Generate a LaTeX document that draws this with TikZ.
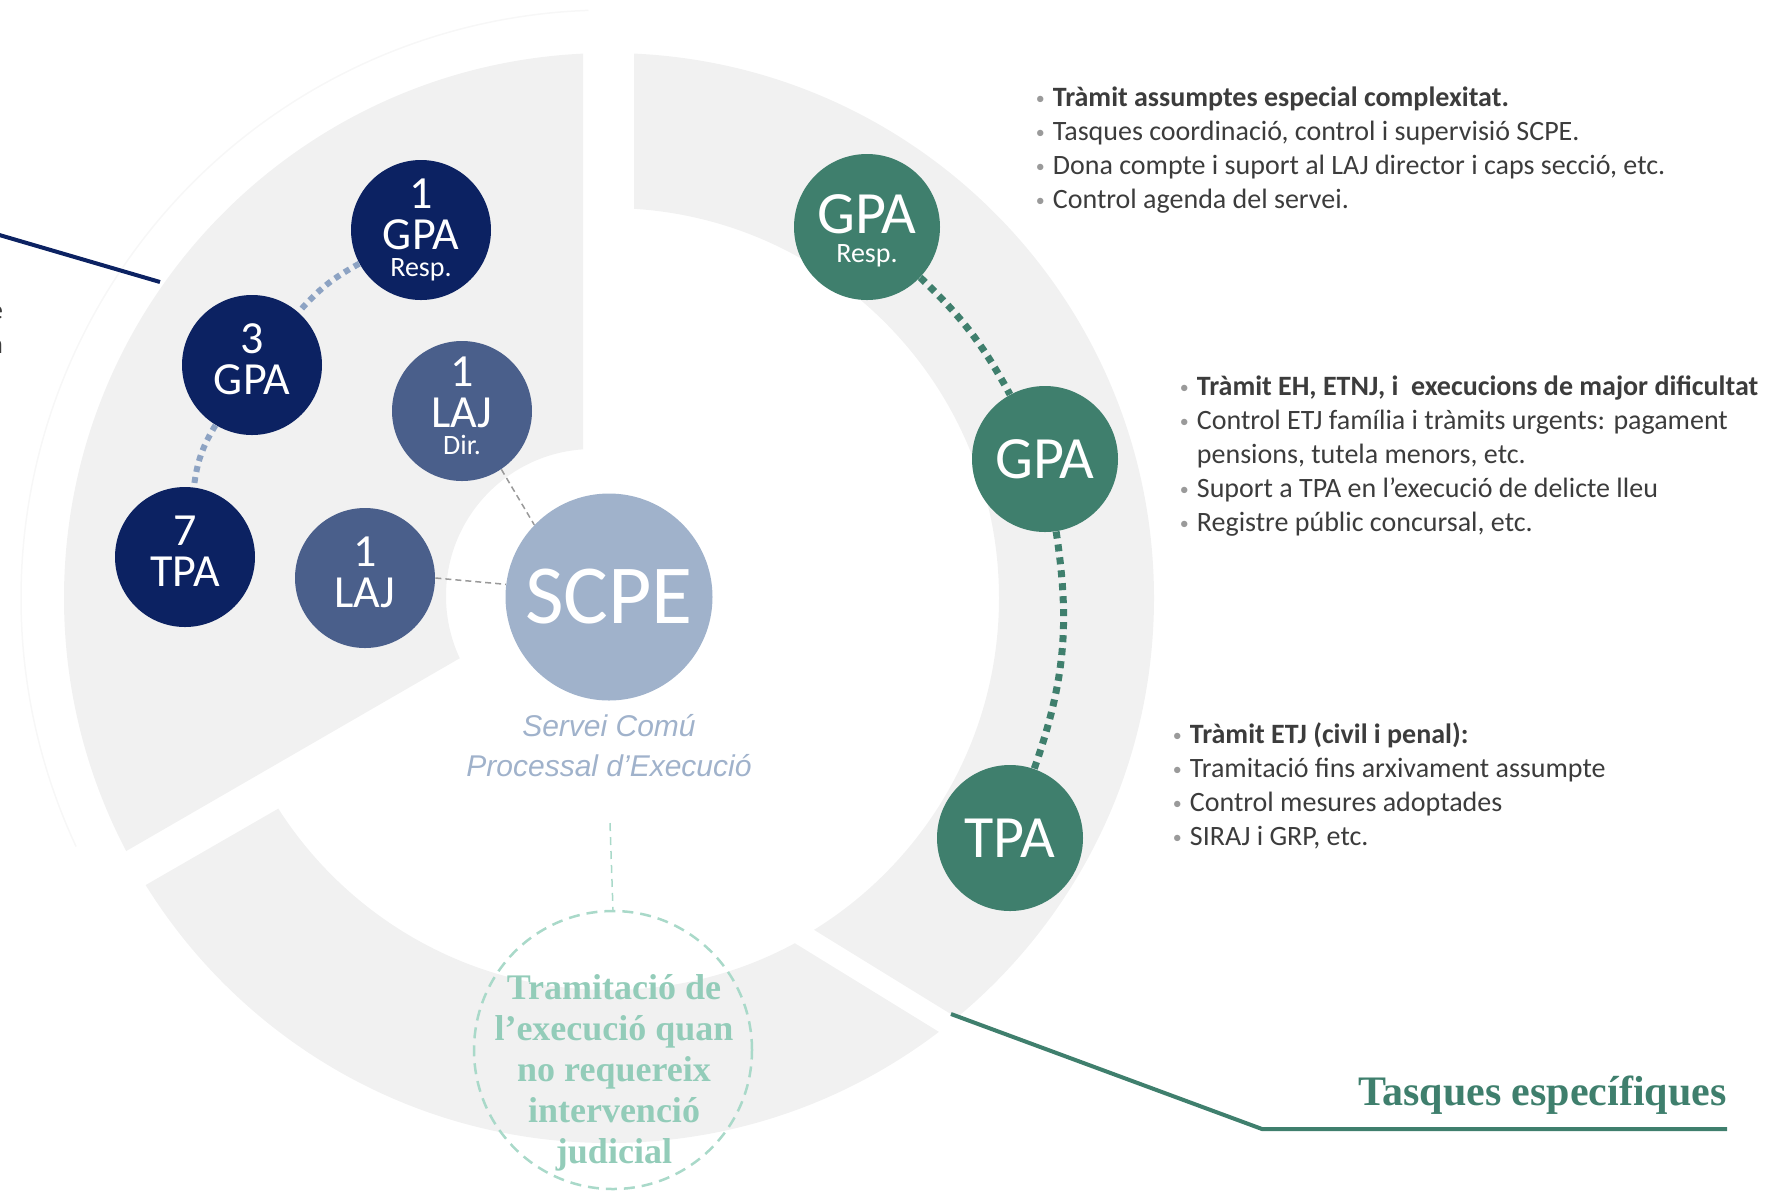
\documentclass[tikz,border=0pt]{standalone}
\usepackage{fontspec}
\setmainfont{Carlito}
\newfontfamily\serifbold{Liberation Serif}
\newfontfamily\subtitlefont{Liberation Sans}
\usepackage{tikz}
\usetikzlibrary{positioning, calc}

\definecolor{navyteam}{HTML}{0C2262}
\definecolor{lajblue}{HTML}{4A5F8B}
\definecolor{scpeblue}{HTML}{A0B2CB}
\definecolor{teamgreen}{HTML}{3F7F6D}
\definecolor{ringgrey}{HTML}{F1F1F1}
\definecolor{dotblue}{HTML}{8DA3C3}
\definecolor{mint}{HTML}{93CCB9}
\definecolor{mintline}{HTML}{A9D9C9}
\definecolor{textgrey}{HTML}{3C3C3C}
\definecolor{bulgrey}{HTML}{9A9A9A}

\newcommand{\bul}{\makebox[8.5pt][l]{\textcolor{bulgrey}{\fontsize{9}{9}\selectfont\raisebox{0.6pt}{•}}}}
\newcommand{\hang}{\hspace*{8.5pt}}

\begin{document}
\begin{tikzpicture}[x=0.5pt, y=-0.5pt,
    team/.style={circle, fill=navyteam, text=white, minimum size=70pt, inner sep=0pt, align=center, font=\fontsize{23}{20.5}\selectfont},
    laj/.style={team, fill=lajblue},
    twoline/.style={text depth=6pt},
    spec/.style={circle, fill=teamgreen, text=white, minimum size=73pt, inner sep=0pt, align=center, font=\fontsize{30}{30}\selectfont},
    tasks/.style={anchor=base west, align=left, inner sep=0pt, text=textgrey, font=\fontsize{14}{17}\selectfont},
    teamdots/.style={draw=dotblue, line width=3pt, dash pattern=on 3pt off 2.6pt},
    specdots/.style={draw=teamgreen, line width=3.5pt, dash pattern=on 3.5pt off 3pt},
    linkdash/.style={draw=black!40, line width=0.75pt, dash pattern=on 3pt off 2pt}]
    \useasboundingbox (0,0) rectangle (1768,1191);

    \begin{scope}
        \clip (583,0) -- (583,587) -- (0,924) -- (0,0) -- cycle;
        \fill[ringgrey, even odd rule] (609,598) circle[radius=272.5pt] (593,596) circle[radius=73.5pt];
    \end{scope}
    \begin{scope}
        \clip (634,0) -- (634,819) -- (1300,1229) -- (1300,0) -- cycle;
        \fill[ringgrey, even odd rule] (609,598) circle[radius=272.5pt] (609,598) circle[radius=195pt];
    \end{scope}
    \begin{scope}
        \clip (0,969) -- (432,720) -- (1300,1254) -- (1300,1300) -- (0,1300) -- cycle;
        \fill[ringgrey, even odd rule] (609,598) circle[radius=272.5pt] (609,598) circle[radius=196pt];
    \end{scope}
    \draw[black!3, line width=0.75pt] (609,598) ++(92:294pt) arc[start angle=92, end angle=205, radius=294pt];

    \coordinate (nl0) at (-4,234);
    \coordinate (nl1) at (160,282);
    \draw[navyteam, line width=2pt] (nl0) -- (nl1);
    \node[anchor=base east, inner sep=0pt, text=textgrey, font=\fontsize{14}{17}\selectfont] (cute) at (3.5,319) {e};
    \node[anchor=base east, inner sep=0pt, text=textgrey, font=\fontsize{14}{17}\selectfont] (cuta) at (3.5,353) {a};

    \node[team] (g1) at (421,230) {1\\GPA\\[-7pt]{\fontsize{14}{14}\selectfont Resp.}};
    \node[team, twoline] (g3) at (252,365) {3\\GPA};
    \node[team, twoline] (t7) at (185,557) {7\\TPA};
    \node[laj, text depth=5pt] (ljd) at (462,411) {1\\LAJ\\[-7pt]{\fontsize{14}{14}\selectfont Dir.}};
    \node[laj, twoline] (lj) at (365,578) {1\\LAJ};
    \node[circle, fill=scpeblue, text=white, minimum size=103.5pt, inner sep=0pt, font=\fontsize{42}{42}\selectfont] (scpe) at (609,597) {SCPE};
    \node[below=6.5pt of scpe, inner sep=0pt, align=center, text=scpeblue, font=\subtitlefont\itshape\fontsize{15}{20}\selectfont] (sub) {Servei Comú\\Processal d’Execució};

    \node[spec, text height=37.5pt] (gr) at (867,227) {GPA\\[-15.5pt]{\fontsize{14}{14}\selectfont Resp.}};
    \node[spec] (gp) at (1045,459) {GPA};
    \node[spec] (tp) at (1010,838) {TPA};

    \node[tasks] (grtasks) at (1035.5,208) {\bul\textbf{Tràmit assumptes especial complexitat.}\\
        \bul Tasques coordinació, control i supervisió SCPE.\\
        \bul Dona compte i suport al LAJ director i caps secció, etc.\\
        \bul Control agenda del servei.};
    \node[tasks] (gptasks) at (1179.5,531) {\bul\textbf{Tràmit EH, ETNJ, i~ execucions de major dificultat}\\
        \bul Control ETJ família i tràmits urgents: pagament\\
        \hang pensions, tutela menors, etc.\\
        \bul Suport a TPA en l’execució de delicte lleu\\
        \bul Registre públic concursal, etc.};
    \node[tasks] (tptasks) at (1172.5,845) {\bul\textbf{Tràmit ETJ (civil i penal):}\\
        \bul Tramitació fins arxivament assumpte\\
        \bul Control mesures adoptades\\
        \bul SIRAJ i GRP, etc.};

    \node[circle, draw=mintline, line width=1.25pt, dash pattern=on 5.5pt off 3.5pt, minimum size=139pt, inner sep=0pt] (tram) at (613,1050) {};
    \node[align=center, text=mint, font=\serifbold\bfseries\fontsize{18}{20.5}\selectfont] (tramtxt) at (614,1073) {Tramitació de\\l’execució quan\\no requereix\\intervenció\\judicial};

    \node[anchor=base east, inner sep=0pt, text=teamgreen, font=\serifbold\bfseries\fontsize{21}{21}\selectfont] (tasq) at (1727,1105) {Tasques específiques};
    \coordinate (tq0) at (951,1014);
    \coordinate (tq1) at (1262,1129);
    \draw[teamgreen, line width=2pt] (tq0) -- (tq1) -- (tq1 -| tasq.east);

    \path[teamdots] (g1) edge[bend right=10] (g3)
                    (g3) edge[bend right=12] (t7);
    \path[specdots] (gr) edge[bend left=9] (gp)
                    (gp) edge[bend left=14] (tp);
    \path[linkdash] (ljd.-56) edge (scpe.136)
                    (lj.0) edge (scpe.173);
    \coordinate (tick) at (610,823);
    \draw[mintline, line width=0.75pt, dash pattern=on 4pt off 3pt] (tick) -- (tram.north);
\end{tikzpicture}
\end{document}
